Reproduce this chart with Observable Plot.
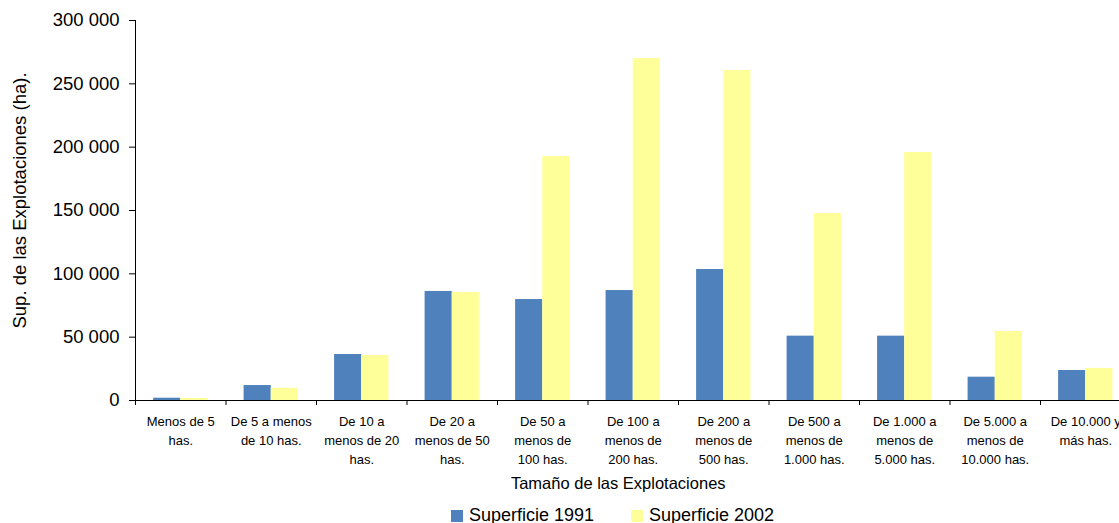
<!DOCTYPE html>
<html>
<head>
<meta charset="utf-8">
<script src="https://cdn.jsdelivr.net/npm/d3@7"></script>
<script src="https://cdn.jsdelivr.net/npm/@observablehq/plot@0.6"></script>
<style>
  html, body { margin: 0; padding: 0; background: #fff; overflow: hidden; }
  body { font-family: "Liberation Sans", Arial, sans-serif; width: 1119px; height: 523px; position: relative; }
  #legend { position: absolute; left: 0; top: 505px; width: 1119px; height: 20px; font-size: 18px; color: #000; }
  .item { position: absolute; top: 0; display: flex; align-items: center; white-space: nowrap; line-height: 20px; }
  .sw { width: 12px; height: 12px; margin-right: 6px; margin-top: 2px; }
</style>
</head>
<body>
<div id="chart"></div>
<div id="legend"></div>
<script>
// ---- Data ----
const categories = [
  "Menos de 5\nhas.",
  "De 5 a menos\nde 10 has.",
  "De 10 a\nmenos de 20\nhas.",
  "De 20 a\nmenos de 50\nhas.",
  "De 50 a\nmenos de\n100 has.",
  "De 100 a\nmenos de\n200 has.",
  "De 200 a\nmenos de\n500 has.",
  "De 500 a\nmenos de\n1.000 has.",
  "De 1.000 a\nmenos de\n5.000 has.",
  "De 5.000 a\nmenos de\n10.000 has.",
  "De 10.000 y\nmás has."
];
const series = ["Superficie 1991", "Superficie 2002"];
const sup1991 = [1800, 11800, 36300, 86100, 79700, 86800, 103400, 50800, 50800, 18400, 23700];
const sup2002 = [1600, 9700, 35500, 85300, 192600, 270000, 260500, 147600, 195800, 54500, 25300];
const yTicks = [0, 50000, 100000, 150000, 200000, 250000, 300000];
const colors = ["#4F81BD", "#FFFF99"];

// ---- Table ----
const rows = [];
categories.forEach((c, i) => {
  rows.push({i, s: 0, series: series[0], value: sup1991[i]});
  rows.push({i, s: 1, series: series[1], value: sup2002[i]});
});
const catRows = categories.map((c, i) => ({i, label: c}));

const fmt = v => d3.format(",")(v).replace(/,/g, " ");
const pad = 0.2, bw = 0.3;

const chart = Plot.plot({
  width: 1119,
  height: 500,
  marginLeft: 135,
  marginRight: -11.5,
  marginTop: 20,
  marginBottom: 100,
  style: {fontFamily: "Liberation Sans, Arial, sans-serif", background: "#fff", color: "#000", overflow: "visible"},
  x: {domain: [0, categories.length]},
  y: {domain: [0, 300000]},
  color: {domain: series, range: colors},
  marks: [
    Plot.rectY(rows, {
      x1: d => d.i + pad + d.s * bw,
      x2: d => d.i + pad + (d.s + 1) * bw,
      y: "value",
      fill: "series"
    }),
    // y axis
    Plot.axisY({ticks: yTicks, tickFormat: fmt, tickSize: 6, tickPadding: 10, fontSize: 18.5, label: null, stroke: "#000"}),
    Plot.ruleX([0], {y1: 0, y2: 300000, stroke: "#000"}),
    // x axis
    Plot.axisX({ticks: d3.range(categories.length + 1), tickFormat: () => "", tickSize: 5, label: null, stroke: "#000"}),
    Plot.ruleY([0], {stroke: "#000"}),
    Plot.text(catRows, {
      x: d => d.i + 0.5,
      y: 0,
      text: "label",
      lineAnchor: "top",
      lineHeight: 1.46,
      dy: 12,
      fontSize: 13,
      fill: "#000"
    }),
    Plot.text(["Tamaño de las Explotaciones"], {frameAnchor: "bottom", dy: 88, dx: -15, fontSize: 16.5, fill: "#000"}),
    Plot.text(["Sup. de las Explotaciones (ha)."], {frameAnchor: "left", textAnchor: "middle", dx: -115, dy: -10, rotate: -90, fontSize: 18.5, fill: "#000"})
  ]
});
document.getElementById("chart").appendChild(chart);

// ---- Legend ----
const legend = document.getElementById("legend");
const lefts = [451, 631];
series.forEach((s, k) => {
  const it = document.createElement("div");
  it.className = "item";
  it.style.left = lefts[k] + "px";
  const sw = document.createElement("span");
  sw.className = "sw";
  sw.style.background = colors[k];
  const t = document.createElement("span");
  t.textContent = s;
  it.appendChild(sw);
  it.appendChild(t);
  legend.appendChild(it);
});
</script>
</body>
</html>
